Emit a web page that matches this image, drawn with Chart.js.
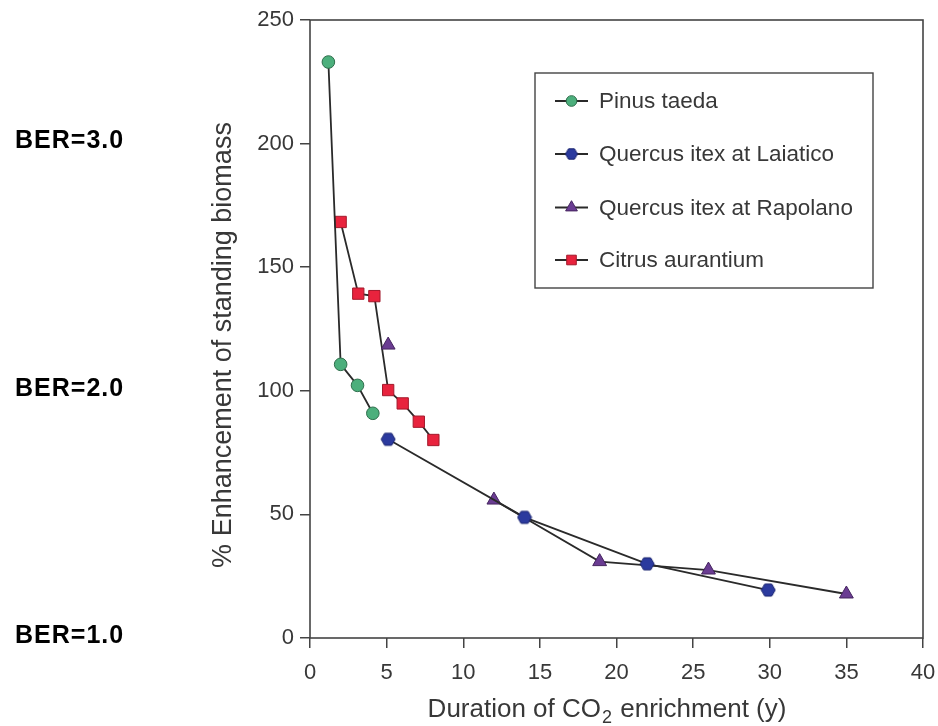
<!DOCTYPE html>
<html><head><meta charset="utf-8">
<script src="https://cdn.jsdelivr.net/npm/chart.js@4.4.1/dist/chart.umd.min.js"></script>
<style>html,body{margin:0;padding:0;background:#fff}#wrap{width:938px;height:726px;position:relative}</style>
</head><body><div id="wrap"><canvas id="c" width="938" height="726"></canvas></div>
<script>
// ---- data ----
const xTicks = [0, 5, 10, 15, 20, 25, 30, 35, 40];
const yTicks = [0, 50, 100, 150, 200, 250];
const seriesNames = ['Pinus taeda', 'Quercus itex at Laiatico', 'Quercus itex at Rapolano', 'Citrus aurantium'];
const pinusX = [1.2, 2.0, 3.1, 4.1];
const pinusY = [233, 110.7, 102.2, 90.9];
const laiaticoX = [5.1, 14, 22, 29.9];
const laiaticoY = [80.4, 48.8, 30.0, 19.4];
const rapolanoX = [5.1, 12, 18.9, 26, 35];
const rapolanoY = [118.5, 55.8, 30.9, 27.5, 17.8];
const citrusX = [2.0, 3.15, 4.2, 5.1, 6.05, 7.1, 8.05];
const citrusY = [168.3, 139.3, 138.3, 100.3, 94.9, 87.5, 80.1];
const berLabels = ['BER=3.0', 'BER=2.0', 'BER=1.0'];
const berValues = [200, 100, 0];
const xTitleParts = ['Duration of CO', '2', ' enrichment (y)'];
const yTitle = '% Enhancement of standing biomass';

const FONT = "'Liberation Sans', Arial, Helvetica, sans-serif";
const TXT = '#383838';
const LINE = '#2a2a2a';

function pts(xs, ys) { return xs.map((x, i) => ({ x: x, y: ys[i] })); }

// hexagon marker image
function hexImage(size, fill, stroke) {
  const c = document.createElement('canvas');
  c.width = size; c.height = size;
  const g = c.getContext('2d');
  const r = size / 2 - 1;
  g.beginPath();
  for (let i = 0; i < 6; i++) {
    const a = Math.PI / 3 * i;
    const px = size / 2 + r * Math.cos(a), py = size / 2 + r * Math.sin(a);
    if (i === 0) g.moveTo(px, py); else g.lineTo(px, py);
  }
  g.closePath();
  g.fillStyle = fill; g.fill();
  g.lineWidth = 1; g.strokeStyle = stroke; g.stroke();
  return c;
}
const hex = hexImage(16, '#2b3a9e', '#1b2570');
const hexSmall = hexImage(14, '#2b3a9e', '#1b2570');

const datasets = [
  { label: seriesNames[0], data: pts(pinusX, pinusY), pointStyle: 'circle', pointRadius: 6.3,
    backgroundColor: '#4caf7c', pointBorderColor: '#2f6e4c', pointBorderWidth: 1 },
  { label: seriesNames[1], data: pts(laiaticoX, laiaticoY), pointStyle: hex, pointRadius: 7.5,
    backgroundColor: '#2b3a9e', pointBorderColor: '#1b2570', pointBorderWidth: 1 },
  { label: seriesNames[2], data: pts(rapolanoX, rapolanoY), pointStyle: 'triangle', pointRadius: 8,
    backgroundColor: '#6a3c92', pointBorderColor: '#45255f', pointBorderWidth: 1,
    segment: { borderColor: ctx => ctx.p0DataIndex === 0 ? 'rgba(0,0,0,0)' : LINE } },
  { label: seriesNames[3], data: pts(citrusX, citrusY), pointStyle: 'rect', pointRadius: 8,
    backgroundColor: '#e8233d', pointBorderColor: '#a3192b', pointBorderWidth: 1 }
].map(d => Object.assign({ borderColor: LINE, borderWidth: 1.8, showLine: true, tension: 0,
  pointBackgroundColor: d.backgroundColor }, d));

const extras = {
  id: 'extras',
  afterDraw(chart) {
    const ctx = chart.ctx, a = chart.chartArea;
    const ys = chart.scales.y;
    ctx.save();
    // frame
    ctx.strokeStyle = '#444'; ctx.lineWidth = 1.6;
    ctx.strokeRect(a.left, a.top, a.right - a.left, a.bottom - a.top);
    // x title with subscript
    ctx.fillStyle = TXT; ctx.textBaseline = 'alphabetic';
    const f1 = '26px ' + FONT, f2 = '18px ' + FONT;
    ctx.font = f1; const w1 = ctx.measureText(xTitleParts[0]).width;
    const w3 = ctx.measureText(xTitleParts[2]).width;
    ctx.font = f2; const w2 = ctx.measureText(xTitleParts[1]).width;
    let x0 = 606 - (w1 + w2 + w3) / 2, yb = 717;
    ctx.textAlign = 'left';
    ctx.font = f1; ctx.fillText(xTitleParts[0], x0, yb);
    ctx.font = f2; ctx.fillText(xTitleParts[1], x0 + w1 + 1, yb + 6);
    ctx.font = f1; ctx.fillText(xTitleParts[2], x0 + w1 + w2 + 2, yb);
    // y title
    ctx.save();
    ctx.translate(231, 345); ctx.rotate(-Math.PI / 2);
    ctx.textAlign = 'center'; ctx.textBaseline = 'alphabetic';
    ctx.font = '27px ' + FONT; ctx.fillText(yTitle, 0, 0);
    ctx.restore();
    // BER labels
    ctx.fillStyle = '#000'; ctx.font = 'bold 25px ' + FONT;
    ctx.textAlign = 'left'; ctx.textBaseline = 'middle';
    try { ctx.letterSpacing = '1px'; } catch (e) {}
    berLabels.forEach((t, i) => ctx.fillText(t, 15, ys.getPixelForValue(berValues[i]) - 2));
    try { ctx.letterSpacing = '0px'; } catch (e) {}
    // legend
    const L = 535, T = 73, R = 873, B = 288;
    ctx.strokeStyle = '#444'; ctx.lineWidth = 1.4;
    ctx.strokeRect(L, T, R - L, B - T);
    const rows = [101, 154, 207.5, 260];
    chart.data.datasets.forEach((ds, i) => {
      const yy = rows[i];
      ctx.strokeStyle = LINE; ctx.lineWidth = 1.8;
      ctx.beginPath(); ctx.moveTo(555, yy); ctx.lineTo(588, yy); ctx.stroke();
      ctx.fillStyle = ds.backgroundColor; ctx.strokeStyle = ds.pointBorderColor; ctx.lineWidth = 1;
      const ps = ds.pointStyle === hex ? hexSmall : ds.pointStyle;
      Chart.helpers.drawPoint(ctx, { pointStyle: ps, radius: ds.pointRadius * 0.85, borderWidth: 1 }, 571.5, yy);
      ctx.fillStyle = TXT; ctx.font = '22.5px ' + FONT;
      ctx.textAlign = 'left'; ctx.textBaseline = 'middle';
      ctx.fillText(ds.label, 599, yy + 1);
    });
    ctx.restore();
  }
};

new Chart(document.getElementById('c'), {
  type: 'scatter',
  data: { datasets: datasets },
  options: {
    responsive: false, animation: false, devicePixelRatio: 1,
    layout: { padding: { top: 20, right: 15, left: 0, bottom: 0 } },
    plugins: { legend: { display: false }, tooltip: { enabled: false } },
    scales: {
      x: {
        type: 'linear', min: xTicks[0], max: xTicks[xTicks.length - 1],
        afterFit: s => { s.height = 88; s.paddingRight = 0; s.paddingLeft = 0; },
        afterBuildTicks: s => { s.ticks = xTicks.map(v => ({ value: v })); },
        grid: { drawOnChartArea: false, drawTicks: true, tickLength: 10, color: '#444', lineWidth: 1.5 },
        border: { display: false },
        ticks: { color: TXT, font: { size: 22, family: FONT }, padding: 12, maxRotation: 0 }
      },
      y: {
        type: 'linear', min: yTicks[0], max: yTicks[yTicks.length - 1],
        afterFit: s => { s.width = 310; },
        afterBuildTicks: s => { s.ticks = yTicks.map(v => ({ value: v })); },
        grid: { drawOnChartArea: false, drawTicks: true, tickLength: 10, color: '#444', lineWidth: 1.5 },
        border: { display: false },
        ticks: { color: TXT, font: { size: 22, family: FONT }, padding: 6 }
      }
    }
  },
  plugins: [extras]
});
</script></body></html>
